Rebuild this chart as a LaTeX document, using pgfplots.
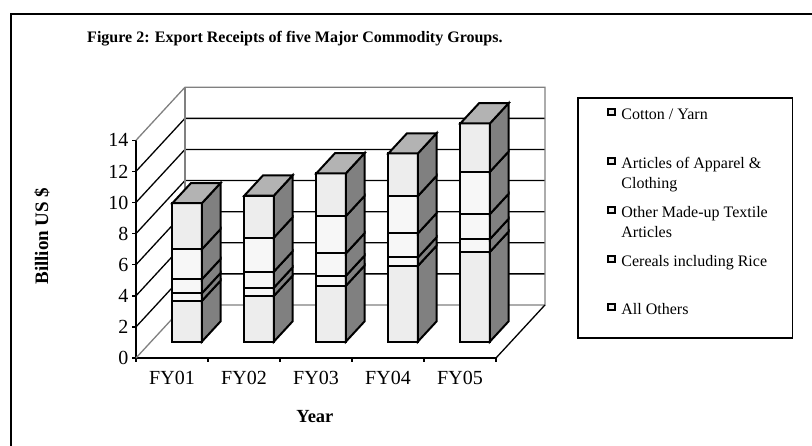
\documentclass[border=0pt]{standalone}
\usepackage{fontspec}
\setmainfont{Liberation Serif}
\usepackage{pgfplots}
\usepackage{pgfplotstable}
\pgfplotsset{compat=1.18}

\definecolor{frontA}{HTML}{EDEDED}
\definecolor{frontB}{HTML}{F7F7F7}
\definecolor{sideC}{HTML}{808080}
\definecolor{topC}{HTML}{B3B3B3}
\definecolor{wallC}{HTML}{808080}

% Export receipts, billion US$ (segments, bottom to top)
\pgfplotstableread{
i  others cereals madeup apparel cotton
1  2.62   0.49    0.90   1.93    2.96
2  2.94   0.53    1.03   2.19    2.70
3  3.59   0.64    1.44   2.40    2.75
4  4.87   0.54    1.55   2.40    2.74
5  5.77   0.82    1.61   2.72    3.11
}\datatable

\pgfplotsset{barface/.style={draw=black, line width=2pt, mark=none, line join=miter}}

% oblique projection: depth d in [0,1] -> (+0.68 in x, +3.41 in y)
\newcommand\drawseg[4]{%
  \pgfmathsetmacro\xL{#1-0.205+0.2108}%
  \pgfmathsetmacro\xR{#1+0.205+0.2108}%
  \pgfmathsetmacro\xRb{\xR+0.2584}%
  \pgfmathsetmacro\ya{#2+1.0571}%
  \pgfmathsetmacro\yb{#3+1.0571}%
  \pgfmathsetmacro\yab{\ya+1.2958}%
  \pgfmathsetmacro\ybb{\yb+1.2958}%
  \edef\tmp{%
    \noexpand\addplot[barface,fill=#4,forget plot] coordinates {(\xL,\ya) (\xR,\ya) (\xR,\yb) (\xL,\yb)} -- cycle;%
    \noexpand\addplot[barface,fill=sideC,forget plot] coordinates {(\xR,\ya) (\xRb,\yab) (\xRb,\ybb) (\xR,\yb)} -- cycle;%
  }\tmp
}
\newcommand\drawtop[2]{%
  \pgfmathsetmacro\xL{#1-0.205+0.2108}%
  \pgfmathsetmacro\xR{#1+0.205+0.2108}%
  \pgfmathsetmacro\xLb{\xL+0.2584}%
  \pgfmathsetmacro\xRb{\xR+0.2584}%
  \pgfmathsetmacro\yt{#2+1.0571}%
  \pgfmathsetmacro\ytb{\yt+1.2958}%
  \edef\tmp{\noexpand\addplot[barface,fill=topC,forget plot] coordinates {(\xL,\yt) (\xR,\yt) (\xRb,\ytb) (\xLb,\ytb)} -- cycle;}\tmp
}
\newcommand\drawcol[3]{%
  \pgfplotstablegetelem{#1}{#2}\of\datatable
  \pgfmathsetmacro\segtop{\cum+\pgfplotsretval}%
  \drawseg{\ci}{\cum}{\segtop}{#3}%
  \let\cum\segtop
}
\newcommand\drawbar[1]{%
  \pgfmathsetmacro\ci{#1+1}%
  \def\cum{0}%
  \drawcol{#1}{others}{frontA}%
  \drawcol{#1}{cereals}{frontB}%
  \drawcol{#1}{madeup}{frontB}%
  \drawcol{#1}{apparel}{frontB}%
  \drawcol{#1}{cotton}{frontA}%
  \drawtop{\ci}{\cum}%
}

\begin{document}
\begin{tikzpicture}[x=1pt,y=1pt]
\useasboundingbox (0,0) rectangle (812,446);
\draw[line width=2pt] (11,-20) -- (11,432) -- (840,432);
\begin{axis}[
  at={(136pt,88pt)}, anchor=south west,
  x=72pt, y=15.55pt,
  xmin=0.5, xmax=5.5, ymin=0, ymax=14,
  enlargelimits=false,
  clip=false,
  axis x line=bottom, axis y line=left,
  axis line style={-, line width=1.5pt, black},
  tick align=outside,
  major tick length=4pt,
  tick style={line width=1.5pt, black},
  xtick={0.5,1.5,2.5,3.5,4.5,5.5},
  xticklabels={FY01,FY02,FY03,FY04,FY05,},
  x tick label style={xshift=36pt, yshift=-6pt},
  ytick={0,2,4,6,8,10,12,14},
  /pgf/number format/assume math mode=true,
  ticklabel style={font=\fontsize{20}{24}\selectfont},
  ylabel={Billion US \$},
  ylabel style={font=\bfseries\fontsize{19}{22}\selectfont, at={(axis description cs:-0.261,0.56)}, anchor=center},
  xlabel={Year},
  xlabel style={font=\bfseries\fontsize{18.5}{22}\selectfont, at={(axis description cs:0.497,-0.271)}, anchor=center},
  title={Figure 2: Export Receipts of five Major Commodity Groups.},
  title style={font=\bfseries\fontsize{16}{19}\selectfont, at={(axis description cs:-0.136,1.4217)}, anchor=base west, inner sep=0pt},
  legend style={at={(axis cs:6.625,16.785)}, anchor=north west, draw=black, line width=1.6pt,
    inner xsep=0pt, inner ysep=10pt, row sep=32.75pt, column sep=0pt,
    font=\fontsize{16}{20}\selectfont,
    nodes={inner xsep=0pt, inner ysep=0pt, text height=12pt, text depth=4pt}},
  legend cell align=left,
]
% walls and floor
\addplot[black, line width=1.3pt, forget plot, mark=none] coordinates {(0.5,2) (1.18,5.41) (6.18,5.41)};
\addplot[black, line width=1.3pt, forget plot, mark=none] coordinates {(0.5,4) (1.18,7.41) (6.18,7.41)};
\addplot[black, line width=1.3pt, forget plot, mark=none] coordinates {(0.5,6) (1.18,9.41) (6.18,9.41)};
\addplot[black, line width=1.3pt, forget plot, mark=none] coordinates {(0.5,8) (1.18,11.41) (6.18,11.41)};
\addplot[black, line width=1.3pt, forget plot, mark=none] coordinates {(0.5,10) (1.18,13.41) (6.18,13.41)};
\addplot[black, line width=1.3pt, forget plot, mark=none] coordinates {(0.5,12) (1.18,15.41) (6.18,15.41)};
\addplot[wallC, line width=1.3pt, forget plot, mark=none] coordinates {(0.5,14) (1.18,17.41) (6.18,17.41) (6.18,3.41) (1.18,3.41) (0.5,0)};
\addplot[wallC, line width=1.3pt, forget plot, mark=none] coordinates {(1.18,3.41) (1.18,17.41)};
\addplot[black, line width=1.3pt, forget plot, mark=none] coordinates {(5.5,0) (6.18,3.41)};
% bars
\drawbar{0}
\drawbar{1}
\drawbar{2}
\drawbar{3}
\drawbar{4}
% legend
\pgfplotsset{
  legsq/.style={legend image code/.code={%
    \path (-28pt,0pt) (14pt,0pt);
    \draw[line width=2pt, fill=frontA] (1pt,0.5pt) rectangle (8pt,6.5pt);}},
  legsqlast/.style={legend image code/.code={%
    \path (-28pt,0pt) (14pt,0pt);
    \draw[line width=2pt, fill=frontA] (1pt,5pt) rectangle (8pt,11pt);}}}
\addlegendimage{legsq}
\addlegendentry{\parbox[t]{171pt}{Cotton / Yarn}}
\addlegendimage{legsq}
\addlegendentry{\parbox[t]{171pt}{Articles of Apparel \&\\Clothing}}
\addlegendimage{legsq}
\addlegendentry{\parbox[t]{171pt}{Other Made-up Textile\\Articles}}
\addlegendimage{legsq}
\addlegendentry{\parbox[t]{171pt}{Cereals including Rice}}
\addlegendimage{legsqlast}
\addlegendentry[text depth=13pt]{\parbox[t]{171pt}{All Others}}
\end{axis}
\end{tikzpicture}
\end{document}
